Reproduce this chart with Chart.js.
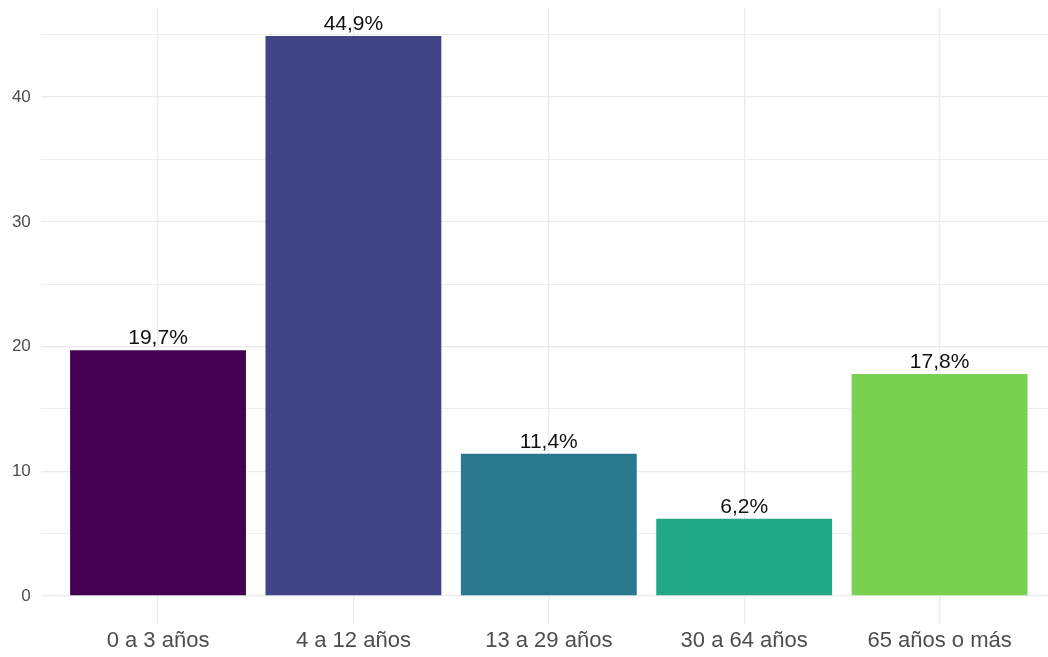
<!DOCTYPE html>
<html>
<head>
<meta charset="utf-8">
<script src="https://cdn.jsdelivr.net/npm/chart.js@4"></script>
<style>
  html, body { margin: 0; padding: 0; background: #fff; overflow: hidden; }
  #wrap { width: 1048px; height: 657px; position: relative; }
</style>
</head>
<body>
<div id="wrap"><canvas id="c"></canvas></div>
<script>
// ---- data
const categories = ["0 a 3 años", "4 a 12 años", "13 a 29 años", "30 a 64 años", "65 años o más"];
const shares = [19.7, 44.9, 11.4, 6.2, 17.8];
const barColors = ["#440154", "#414487", "#2A788E", "#22A884", "#7AD151"];
const yTicks = [0, 5, 10, 15, 20, 25, 30, 35, 40, 45];

const FONT = "'Liberation Sans', Arial, sans-serif";
const fmtPct = v => v.toFixed(1).replace(".", ",") + "%";

// value labels above each bar (ggplot geom_text, vjust -0.5)
const barLabels = {
  id: "barLabels",
  afterDatasetsDraw(chart) {
    const { ctx } = chart;
    const meta = chart.getDatasetMeta(0);
    ctx.save();
    ctx.font = "21px " + FONT;
    ctx.fillStyle = "#111";
    ctx.textAlign = "center";
    ctx.textBaseline = "alphabetic";
    meta.data.forEach((bar, i) => ctx.fillText(fmtPct(shares[i]), bar.x, bar.y - 6));
    ctx.restore();
  },
};

new Chart(document.getElementById("c"), {
  type: "bar",
  data: {
    datasets: [{
      data: shares.map((v, i) => ({ x: i, y: v })),
      backgroundColor: barColors,
      borderWidth: 0,
      categoryPercentage: 0.9,
      barPercentage: 1,
    }],
  },
  options: {
    responsive: true, maintainAspectRatio: false, animation: false,
    layout: { padding: { top: 8, left: 0, right: 0, bottom: 0 } },
    plugins: { legend: { display: false }, tooltip: { enabled: false } },
    scales: {
      x: {
        type: "linear", min: -0.6, max: 4.555, offset: false,
        afterBuildTicks: s => { s.ticks = categories.map((_, i) => ({ value: i })); },
        afterFit: s => { s.height = 33; s.paddingLeft = 0; s.paddingRight = 0; },
        border: { display: false },
        grid: { color: "#ebebeb", lineWidth: 1.3, drawTicks: false, offset: false },
        ticks: {
          padding: 4, color: "#4d4d4d", font: { family: FONT, size: 22 },
          callback: v => categories[v] ?? "",
          autoSkip: false, maxRotation: 0,
        },
      },
      y: {
        min: -2.245, max: 47.145,
        afterBuildTicks: s => { s.ticks = yTicks.map(v => ({ value: v })); },
        afterFit: s => { s.width = 40.8; s.paddingTop = 0; s.paddingBottom = 0; },
        border: { display: false },
        grid: {
          drawTicks: false,
          color: "#ebebeb",
          lineWidth: c => (c.tick && c.tick.value % 10 === 0 ? 1.3 : 0.9),
        },
        ticks: {
          padding: 10, color: "#4d4d4d", font: { family: FONT, size: 17 },
          callback: v => (v % 10 === 0 ? String(v) : ""),
        },
      },
    },
  },
  plugins: [barLabels],
});
</script>
</body>
</html>
